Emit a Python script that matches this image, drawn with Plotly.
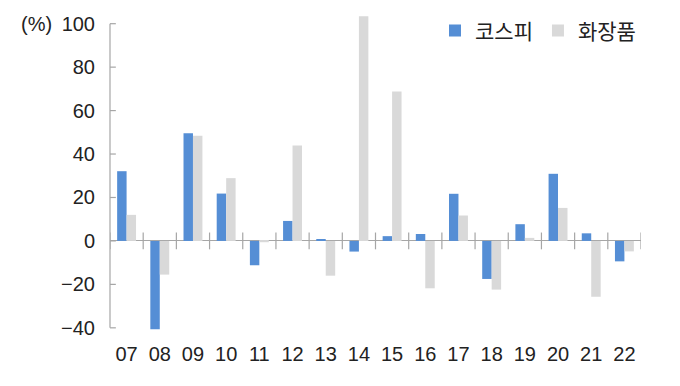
import plotly.graph_objects as go

years = ["07", "08", "09", "10", "11", "12", "13", "14", "15", "16", "17", "18", "19", "20", "21", "22"]
kospi = [32.1, -40.7, 49.6, 21.8, -11.2, 9.2, 0.8, -4.9, 2.2, 3.2, 21.7, -17.5, 7.7, 30.9, 3.5, -9.4]
cosmetics = [12.0, -15.5, 48.4, 28.9, -0.6, 43.9, -16.0, 103.4, 68.8, -21.8, 11.7, -22.4, 1.4, 15.2, -25.7, -4.8]
y_ticks = [-40, -20, 0, 20, 40, 60, 80, 100]
boundaries = [i - 0.5 for i in range(len(years) + 1)]

BLUE = "#558ED5"
GRAY = "#D9D9D9"
AXIS = "#A6A6A6"
FONT = "Liberation Sans, Arial, Noto Sans CJK KR, sans-serif"

fig = go.Figure()
fig.add_trace(go.Bar(x=years, y=kospi, name="코스피", marker=dict(color=BLUE, line=dict(width=0))))
fig.add_trace(go.Bar(x=years, y=cosmetics, name="화장품", marker=dict(color=GRAY, line=dict(width=0))))
# zero-line tick marks at category boundaries
fig.add_trace(go.Scatter(x=boundaries, y=[0] * len(boundaries), xaxis="x2", mode="markers",
                         marker=dict(symbol="line-ns", size=12, line=dict(color=AXIS, width=1.2)),
                         showlegend=False, hoverinfo="skip"))

fig.update_layout(
    width=680, height=386,
    margin=dict(l=110, r=39, t=15, b=56, autoexpand=False),
    paper_bgcolor="white", plot_bgcolor="white",
    barmode="group", bargap=0.43, bargroupgap=0,
    font=dict(family=FONT, size=20, color="#222222"),
    showlegend=True,
    legend=dict(orientation="h", x=1.0, xanchor="right", y=1.015, yanchor="top",
                font=dict(family="Noto Sans CJK KR, sans-serif", size=21, color="#222222"),
                itemwidth=30, tracegroupgap=0, bgcolor="rgba(0,0,0,0)", traceorder="normal"),
    xaxis=dict(type="category", showline=False, showgrid=False, zeroline=False, ticks="",
               automargin=False, ticklabelstandoff=10, tickfont=dict(size=20)),
    xaxis2=dict(overlaying="x", range=[-0.5, len(years) - 0.5], visible=False),
    yaxis=dict(range=[-41, 104], tickvals=y_ticks, showgrid=False, showline=False,
               zeroline=True, zerolinecolor=AXIS, zerolinewidth=1.2, automargin=False,
               ticks="", ticklabelstandoff=14, tickfont=dict(size=20)),
    annotations=[dict(text="(%)", xref="paper", yref="y", x=-0.106, y=100, xanchor="right",
                      showarrow=False, font=dict(size=20, color="#222222"))],
    shapes=[dict(type="line", xref="paper", yref="y", x0=0, x1=0, y0=-40, y1=100,
                 line=dict(color=AXIS, width=1.2))] +
           [dict(type="line", xref="paper", yref="y", x0=0, x1=0.011, y0=v, y1=v,
                 line=dict(color=AXIS, width=1.2)) for v in y_ticks],
)
fig.write_html("out.html", config={"displayModeBar": False},
               post_script="document.body.style.margin='0';document.body.style.overflow='hidden';")
